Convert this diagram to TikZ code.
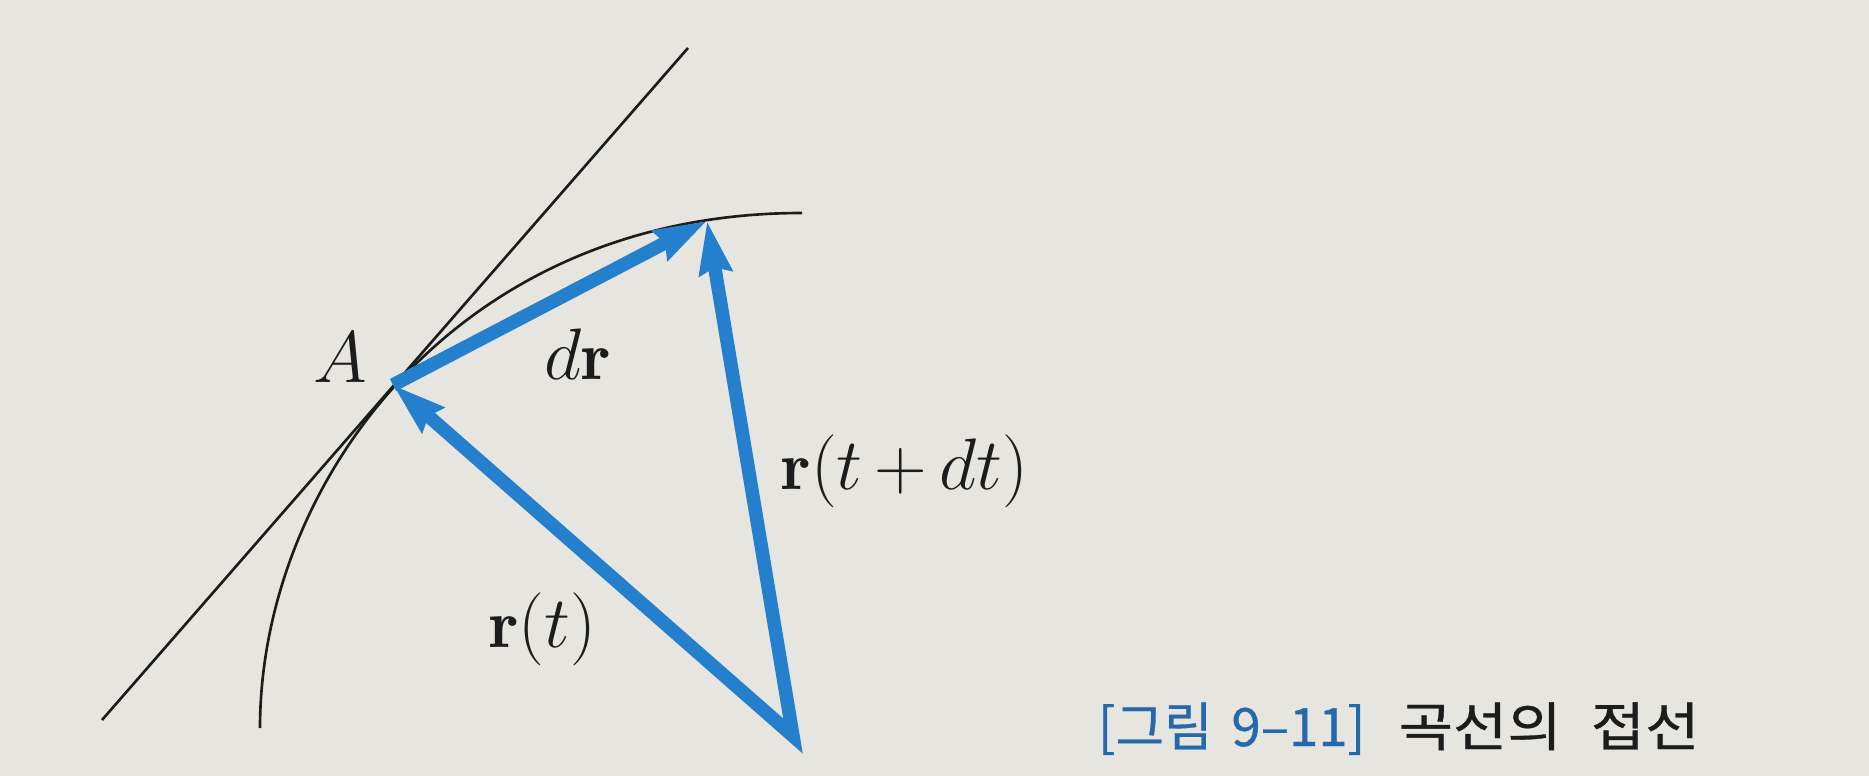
\documentclass[tikz,border=0pt]{standalone}
\usepackage{fontspec}
\usetikzlibrary{arrows.meta}
\newfontfamily\kr[FakeStretch=1.12, FakeBold=0.6, WordSpace=2.2]{Noto Sans CJK KR}
\newfontfamily\krb[FakeStretch=1.0, FakeBold=0.6, WordSpace=1.6]{Noto Sans CJK KR}
\definecolor{bg}{RGB}{231,229,224}
\definecolor{vecblue}{RGB}{36,128,204}
\definecolor{capblue}{RGB}{38,105,170}
\definecolor{ink}{RGB}{28,28,28}
\tikzset{
  thinline/.style={draw=ink, line width=0.75pt},
  vectip/.tip={Stealth[length=5.2mm,width=3.2mm,inset=0.5mm]},
  vecline/.style={draw=vecblue, line width=1.35mm, line join=miter},
  lbl/.style={inner sep=0pt, text=ink, font=\fontsize{19.5}{23}\selectfont},
  captext/.style={anchor=base west, inner sep=0pt}
}
\begin{document}
\begin{tikzpicture}[x=0.01cm, y=-0.01cm]
  \fill[bg] (0,0) rectangle (1869,776);
  \useasboundingbox (0,0) rectangle (1869,776);
  % points
  \coordinate (A) at (393,385);
  \coordinate (P) at (707,221);
  \coordinate (O) at (793,736);
  \coordinate (T1) at (102,720);
  \coordinate (T2) at (688,48);
  \coordinate (C0) at (260,728);
  \coordinate (C3) at (802,213);
  % tangent line
  \draw[thinline] (T1) -- (T2);
  % curve
  \draw[thinline] (C0) .. controls (260,487) and (453,213) .. (C3);
  % vectors
  \draw[vecline, {vectip}-{vectip}] (A) -- (O) -- (P);
  \draw[vecline, -{vectip}] (A) -- (P);
  % labels
  \node[lbl] (Alab) at (340,358) {$A$};
  \node[lbl] (drlab) at (578,354) {$d\mathbf{r}$};
  \node[lbl] (rtlab) at (543,629) {$\mathbf{r}(t)$};
  \node[lbl] (rtdtlab) at (905,471) {$\mathbf{r}(t\,{+}\,dt)$};
  % caption
  \node[captext, text=capblue, font=\krb\fontsize{15}{18}\selectfont] (cap1) at (1097,746) {[그림 9–11]};
  \node[captext, text=ink, font=\kr\fontsize{15}{18}\selectfont] (cap2) at (1398,746) {곡선의 접선};
\end{tikzpicture}
\end{document}
